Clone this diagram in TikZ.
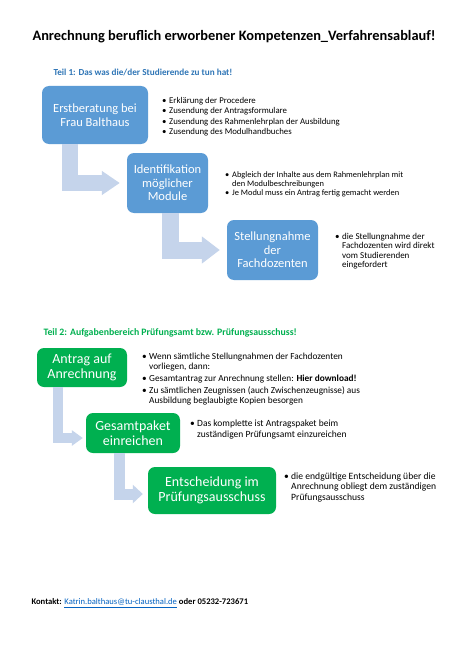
\documentclass[tikz,border=0pt]{standalone}
\usepackage{fontspec}
\setmainfont{Carlito}
\usetikzlibrary{arrows.meta}
\usepackage{xcolor}
\definecolor{boxblue}{HTML}{5B9BD5}
\definecolor{boxgreen}{HTML}{00B050}
\definecolor{arrowblue}{HTML}{C5D4EB}
\definecolor{headblue}{HTML}{2E75B6}
\definecolor{linkblue}{HTML}{0563C1}
\newcommand{\bul}{\makebox[7pt][l]{\textbullet}}
\newcommand{\cnt}{\hspace*{7pt}}

\begin{document}
\begin{tikzpicture}[x=1pt,y=-1pt,
    stepbox/.style={fill=#1,rounded corners=7pt,text=white,align=center,inner sep=0pt},
    bent/.style={draw=arrowblue,line join=miter},
    notes/.style={anchor=north west,align=left,inner sep=0pt}]
    \useasboundingbox[fill=white] (0,0) rectangle (470,666);
    % headings
    \node[anchor=west,font=\bfseries\fontsize{14.4}{16}\selectfont] (title) at (29,37)
        {Anrechnung beruflich erworbener Kompetenzen\_Verfahrensablauf!};
    \node[anchor=west,text=headblue,font=\bfseries\fontsize{9.2}{10}\selectfont] (teil1) at (50,72)
        {Teil 1: Das was die/der Studierende zu tun hat!};
    \node[anchor=west,text=boxgreen,font=\bfseries\fontsize{9.8}{11}\selectfont] (teil2) at (40,333)
        {Teil 2: Aufgabenbereich Prüfungsamt bzw. Prüfungsausschuss!};
    % teil 1
    \node[stepbox=boxblue,minimum width=106pt,minimum height=58pt,font=\fontsize{12.5}{14}\selectfont] (b1) at (95,115)
        {Erstberatung bei\\Frau Balthaus};
    \node[stepbox=boxblue,minimum width=81pt,minimum height=60pt,font=\fontsize{12.5}{13.5}\selectfont] (b2) at (167.5,183)
        {Identifikation\\möglicher\\Module};
    \node[stepbox=boxblue,minimum width=91pt,minimum height=60pt,font=\fontsize{12.5}{13.5}\selectfont] (b3) at (272.5,250)
        {Stellungnahme\\der\\Fachdozenten};
    \draw[bent,line width=16pt,-{Triangle[width=23pt,length=18pt]},shorten >=7pt]
        ([xshift=28.5pt]b1.south west) |- (b2.west);
    \draw[bent,line width=17pt,-{Triangle[width=26pt,length=18pt]},shorten >=7pt]
        ([xshift=43.5pt]b2.south west) |- (b3.west);
    \node[notes,font=\fontsize{8.8}{10.5}\selectfont] (n1) at (162,97)
        {\bul Erklärung der Procedere\\
         \bul Zusendung der Antragsformulare\\
         \bul Zusendung des Rahmenlehrplan der Ausbildung\\
         \bul Zusendung des Modulhandbuches};
    \node[notes,font=\fontsize{8.4}{8.5}\selectfont] (n2) at (225,171.5)
        {\bul Abgleich der Inhalte aus dem Rahmenlehrplan mit\\
         \cnt den Modulbeschreibungen\\[1pt]
         \bul Je Modul muss ein Antrag fertig gemacht werden};
    \node[notes,font=\fontsize{9}{9.3}\selectfont] (n3) at (335,233)
        {\bul die Stellungnahme der\\
         \cnt Fachdozenten wird direkt\\
         \cnt vom Studierenden\\
         \cnt eingefordert};
    % teil 2
    \node[stepbox=boxgreen,minimum width=90pt,minimum height=39pt,font=\fontsize{14}{15}\selectfont] (a1) at (82,367.5)
        {Antrag auf\\Anrechnung};
    \node[stepbox=boxgreen,minimum width=94pt,minimum height=40pt,font=\fontsize{14}{15}\selectfont] (a2) at (133,433)
        {Gesamtpaket\\einreichen};
    \node[stepbox=boxgreen,minimum width=128pt,minimum height=47pt,font=\fontsize{14}{15.5}\selectfont] (a3) at (212,490.5)
        {Entscheidung im\\Prüfungsausschuss};
    \draw[bent,line width=10pt,-{Triangle[width=15pt,length=11pt]},shorten >=3pt]
        ([xshift=21pt]a1.south west) |- ([yshift=-5pt]a2.west);
    \draw[bent,line width=11pt,-{Triangle[width=18pt,length=10pt]},shorten >=5pt]
        ([xshift=33.5pt]a2.south west) |- ([yshift=-3.5pt]a3.west);
    \node[notes,font=\fontsize{9.3}{10}\selectfont] (m1) at (142,352.5)
        {\bul Wenn sämtliche Stellungnahmen der Fachdozenten\\
         \cnt vorliegen, dann:\\[2.3pt]
         \bul Gesamtantrag zur Anrechnung stellen: \textbf{Hier download!}\\[2pt]
         \bul Zu sämtlichen Zeugnissen (auch Zwischenzeugnisse) aus\\
         \cnt Ausbildung beglaubigte Kopien besorgen};
    \node[notes,font=\fontsize{9.5}{11}\selectfont] (m2) at (190,419.5)
        {\bul Das komplette ist Antragspaket beim\\
         \cnt zuständigen Prüfungsamt einzureichen};
    \node[notes,font=\fontsize{9.6}{10.5}\selectfont] (m3) at (284,472.5)
        {\bul die endgültige Entscheidung über die\\
         \cnt Anrechnung obliegt dem zuständigen\\
         \cnt Prüfungsausschuss};
    % kontakt
    \node[anchor=west,font=\fontsize{8.6}{10}\selectfont] (kontakt) at (28,603)
        {\textbf{Kontakt:} \textcolor{linkblue}{\underline{Katrin.balthaus@tu-clausthal.de}} \textbf{oder 05232-723671}};
\end{tikzpicture}
\end{document}
